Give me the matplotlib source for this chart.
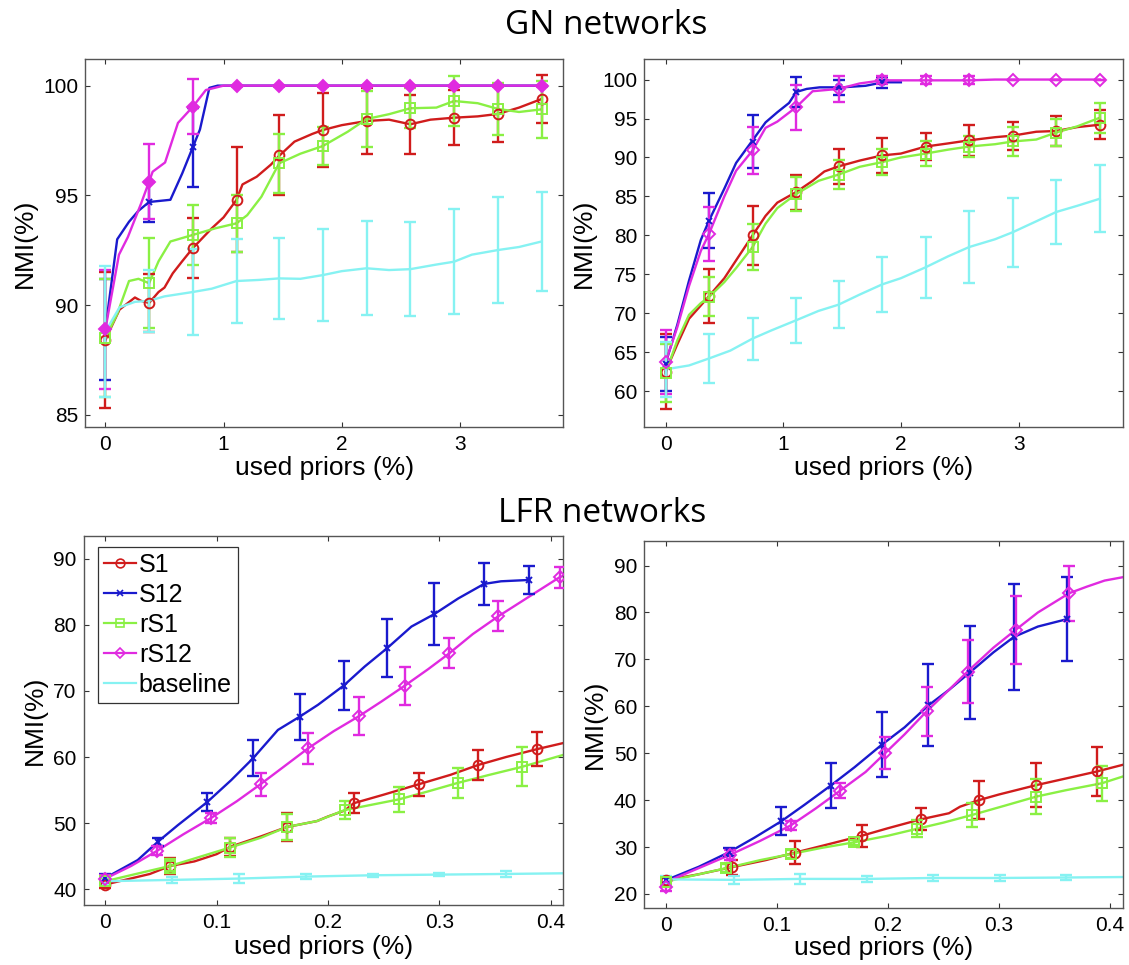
import matplotlib
matplotlib.use("Agg")
import matplotlib.pyplot as plt
from matplotlib.lines import Line2D

# ---------------- DATA ----------------
series_names = ["S1", "S12", "rS1", "rS12", "baseline"]

# GN networks, left panel
gn1_mx = [0, 0.37, 0.74, 1.11, 1.47, 1.84, 2.21, 2.58, 2.95, 3.32, 3.69]
gn1_s1_line = [(0, 88.4), (0.05, 89.0), (0.12, 89.8), (0.25, 90.35), (0.3, 90.2), (0.37, 90.1), (0.45, 90.6),
               (0.5, 90.8), (0.57, 91.45), (0.65, 92.0), (0.74, 92.6), (0.9, 93.5), (1.0, 94.0), (1.11, 94.8),
               (1.16, 95.5), (1.28, 95.85), (1.4, 96.4), (1.47, 96.8), (1.6, 97.45), (1.75, 97.8), (1.84, 97.98),
               (2.0, 98.2), (2.21, 98.39), (2.4, 98.45), (2.58, 98.24), (2.75, 98.45), (2.95, 98.54),
               (3.15, 98.6), (3.32, 98.71), (3.5, 99.0), (3.69, 99.39)]
gn1_s1_m = [88.4, 90.1, 92.6, 94.8, 96.84, 97.98, 98.39, 98.24, 98.54, 98.71, 99.39]
gn1_s1_e = [3.1, 1.3, 1.35, 2.4, 1.8, 1.7, 1.5, 1.35, 1.25, 1.3, 1.1]
gn1_s12_line = [(0, 88.9), (0.1, 93.0), (0.2, 93.8), (0.28, 94.3), (0.37, 94.7), (0.55, 94.8), (0.65, 96.0),
                (0.74, 97.2), (0.8, 98.0), (0.88, 99.9), (0.95, 100), (3.69, 100)]
gn1_s12_m = [88.9, 94.7, 97.2, 100, 100, 100, 100, 100, 100, 100, 100]
gn1_s12_e = [2.3, 0.9, 1.8, 0, 0, 0, 0, 0, 0, 0, 0]
gn1_rs1_line = [(0, 88.5), (0.1, 89.6), (0.2, 91.1), (0.28, 91.2), (0.37, 91.0), (0.45, 92.0), (0.55, 92.9),
                (0.74, 93.2), (0.93, 93.5), (1.11, 93.73), (1.2, 94.1), (1.32, 94.94), (1.47, 96.46),
                (1.65, 96.9), (1.84, 97.25), (2.05, 97.9), (2.21, 98.48), (2.4, 98.7), (2.58, 98.97),
                (2.8, 99.0), (2.95, 99.3), (3.15, 99.2), (3.32, 98.94), (3.5, 98.8), (3.69, 98.92)]
gn1_rs1_m = [88.5, 91.0, 93.2, 93.73, 96.46, 97.25, 98.48, 98.97, 99.30, 98.94, 98.92]
gn1_rs1_e = [2.7, 2.05, 1.35, 1.3, 1.35, 0.85, 1.27, 0.9, 1.15, 1.2, 1.3]
gn1_rs12_line = [(0, 88.9), (0.115, 92.3), (0.19, 93.1), (0.3, 94.6), (0.37, 95.63), (0.4, 96.08),
                 (0.505, 96.5), (0.614, 98.3), (0.74, 99.04), (0.85, 99.8), (1.0, 100), (3.69, 100)]
gn1_rs12_m = [88.9, 95.63, 99.04, 100, 100, 100, 100, 100, 100, 100, 100]
gn1_rs12_e = [2.7, 1.7, 1.25, 0, 0, 0, 0, 0, 0, 0, 0]
gn1_base_line = [(0, 88.8), (0.12, 89.9), (0.25, 90.15), (0.37, 90.2), (0.5, 90.4), (0.74, 90.6), (0.9, 90.75),
                 (1.11, 91.1), (1.3, 91.15), (1.47, 91.22), (1.65, 91.2), (1.84, 91.37), (2.0, 91.55),
                 (2.21, 91.68), (2.4, 91.6), (2.58, 91.64), (2.8, 91.85), (2.95, 91.98), (3.1, 92.3),
                 (3.32, 92.51), (3.5, 92.65), (3.69, 92.9)]
gn1_base_m = [88.8, 90.2, 90.6, 91.1, 91.22, 91.37, 91.68, 91.64, 91.98, 92.51, 92.9]
gn1_base_e = [3.0, 1.4, 1.95, 1.9, 1.85, 2.1, 2.15, 2.15, 2.4, 2.4, 2.27]

# GN networks, right panel
gn2_mx = [0, 0.37, 0.74, 1.11, 1.47, 1.84, 2.21, 2.58, 2.95, 3.32, 3.69]
gn2_s1_line = [(0, 62.5), (0.1, 66.0), (0.2, 69.3), (0.3, 71.0), (0.37, 72.2), (0.5, 74.5), (0.6, 76.8),
               (0.74, 80.0), (0.85, 82.5), (0.95, 84.2), (1.11, 85.56), (1.25, 87.0), (1.35, 88.2),
               (1.47, 88.85), (1.65, 89.6), (1.84, 90.26), (2.0, 90.5), (2.21, 91.4), (2.4, 91.8),
               (2.58, 92.2), (2.8, 92.6), (2.95, 92.8), (3.15, 93.3), (3.32, 93.4), (3.5, 93.9), (3.69, 94.2)]
gn2_s1_m = [62.5, 72.2, 80.0, 85.56, 88.85, 90.26, 91.4, 92.2, 92.8, 93.4, 94.2]
gn2_s1_e = [4.8, 3.45, 3.8, 2.25, 2.2, 2.25, 1.7, 2.0, 1.8, 1.95, 1.85]
gn2_s12_line = [(0, 63.5), (0.1, 68.5), (0.2, 74.2), (0.3, 79.4), (0.37, 81.9), (0.5, 86.0), (0.6, 89.3),
                (0.74, 92.2), (0.85, 94.5), (0.95, 95.8), (1.05, 97.0), (1.11, 98.4), (1.2, 98.8),
                (1.31, 99.0), (1.5, 99.0), (1.7, 99.2), (1.85, 99.65), (2.0, 99.65)]
gn2_s12_mx = [0, 0.37, 0.74, 1.11, 1.47, 1.84]
gn2_s12_m = [63.5, 81.9, 92.0, 98.4, 99.0, 99.65]
gn2_s12_e = [3.5, 3.5, 3.4, 1.9, 1.0, 0.7]
gn2_rs1_line = [(0, 62.3), (0.1, 66.5), (0.2, 69.8), (0.3, 71.3), (0.37, 72.1), (0.5, 74.0), (0.6, 75.8),
                (0.74, 78.5), (0.85, 81.5), (0.95, 83.5), (1.11, 85.3), (1.3, 87.0), (1.47, 87.8),
                (1.65, 88.8), (1.84, 89.4), (2.0, 90.0), (2.21, 90.5), (2.4, 91.0), (2.58, 91.4),
                (2.8, 91.7), (2.95, 92.05), (3.15, 92.3), (3.32, 93.2), (3.5, 94.0), (3.69, 95.1)]
gn2_rs1_m = [62.3, 72.1, 78.5, 85.3, 87.8, 89.4, 90.5, 91.4, 92.05, 93.2, 95.1]
gn2_rs1_e = [3.7, 2.5, 2.9, 2.15, 1.9, 1.7, 1.65, 1.4, 1.9, 1.7, 1.9]
gn2_rs12_line = [(0, 63.7), (0.1, 68.2), (0.2, 73.5), (0.3, 78.0), (0.37, 80.2), (0.5, 85.0), (0.6, 88.3),
                 (0.74, 90.9), (0.85, 93.8), (0.95, 94.6), (1.11, 96.45), (1.25, 98.5), (1.47, 98.8),
                 (1.65, 99.5), (1.84, 99.9), (2.21, 99.9), (2.58, 99.9), (2.8, 100), (3.69, 100)]
gn2_rs12_m = [63.7, 80.2, 90.9, 96.45, 98.8, 99.9, 99.9, 99.9, 100, 100, 100]
gn2_rs12_e = [4.1, 3.5, 3.0, 2.9, 1.7, 0.5, 0.5, 0.5, 0, 0, 0]
gn2_base_line = [(0, 62.8), (0.2, 63.3), (0.37, 64.2), (0.55, 65.2), (0.74, 66.75), (0.9, 67.8), (1.11, 69.1),
                 (1.3, 70.3), (1.47, 71.1), (1.65, 72.4), (1.84, 73.7), (2.0, 74.5), (2.21, 75.9),
                 (2.4, 77.3), (2.58, 78.5), (2.8, 79.5), (2.95, 80.4), (3.15, 81.8), (3.32, 83.0),
                 (3.5, 83.8), (3.69, 84.7)]
gn2_base_m = [62.8, 64.2, 66.75, 69.1, 71.1, 73.7, 75.9, 78.5, 80.4, 83.0, 84.7]
gn2_base_e = [3.5, 3.1, 2.7, 2.9, 3.05, 3.55, 3.9, 4.6, 4.4, 4.1, 4.3]

# LFR networks, left panel
lfr1_s1_line = [(0, 40.7), (0.02, 41.5), (0.04, 42.3), (0.058, 43.5), (0.08, 44.2), (0.1, 45.3),
                (0.112, 46.4), (0.14, 48.0), (0.163, 49.4), (0.19, 50.3), (0.2, 51.0), (0.215, 51.9),
                (0.223, 53.0), (0.25, 54.3), (0.282, 55.9), (0.31, 57.3), (0.335, 58.8), (0.36, 60.0),
                (0.388, 61.2), (0.411, 62.1)]
lfr1_s1_mx = [0, 0.058, 0.112, 0.163, 0.223, 0.282, 0.335, 0.388]
lfr1_s1_m = [40.7, 43.5, 46.4, 49.4, 53.0, 55.9, 58.8, 61.2]
lfr1_s1_e = [0.6, 1.27, 1.4, 2.15, 1.5, 1.75, 2.3, 2.55]
lfr1_s12_line = [(0, 41.7), (0.029, 44.4), (0.0473, 47.2), (0.0652, 49.7), (0.0916, 53.2), (0.113, 56.5),
                 (0.1326, 59.8), (0.155, 64.1), (0.1745, 66.1), (0.191, 67.9), (0.214, 70.8), (0.233, 73.7),
                 (0.2533, 76.5), (0.275, 79.75), (0.2952, 81.6), (0.317, 84.0), (0.3402, 86.2),
                 (0.3555, 86.6), (0.3805, 86.8)]
lfr1_s12_mx = [0, 0.0473, 0.0916, 0.1326, 0.1745, 0.214, 0.2533, 0.2952, 0.3402, 0.3805]
lfr1_s12_m = [41.7, 47.2, 53.2, 59.8, 66.1, 70.8, 76.5, 81.6, 86.2, 86.8]
lfr1_s12_e = [0.6, 0.6, 1.35, 2.7, 3.5, 3.75, 4.35, 4.7, 3.2, 2.1]
lfr1_rs1_line = [(0, 41.2), (0.03, 42.4), (0.058, 43.5), (0.085, 44.9), (0.112, 46.3), (0.14, 47.8),
                 (0.163, 49.4), (0.19, 50.3), (0.215, 51.97), (0.24, 52.8), (0.264, 53.6), (0.29, 54.8),
                 (0.317, 56.1), (0.345, 57.3), (0.374, 58.5), (0.411, 60.3)]
lfr1_rs1_mx = [0, 0.058, 0.112, 0.163, 0.215, 0.264, 0.317, 0.374]
lfr1_rs1_m = [41.2, 43.5, 46.3, 49.4, 51.97, 53.6, 56.1, 58.5]
lfr1_rs1_e = [0.5, 1.1, 1.5, 1.9, 1.4, 1.9, 2.3, 2.95]
lfr1_rs12_line = [(0, 41.6), (0.023, 43.5), (0.0464, 45.8), (0.07, 48.3), (0.0952, 50.8), (0.118, 53.3),
                  (0.1395, 55.9), (0.16, 58.5), (0.182, 61.3), (0.205, 63.9), (0.228, 66.2), (0.248, 68.4),
                  (0.269, 70.8), (0.29, 73.3), (0.309, 75.7), (0.33, 78.6), (0.353, 81.3), (0.38, 84.2),
                  (0.408, 87.2), (0.411, 87.4)]
lfr1_rs12_mx = [0, 0.0464, 0.0952, 0.1395, 0.182, 0.228, 0.269, 0.309, 0.353, 0.408]
lfr1_rs12_m = [41.6, 45.8, 50.8, 55.9, 61.3, 66.2, 70.8, 75.7, 81.3, 87.2]
lfr1_rs12_e = [0.6, 0.7, 0.8, 1.75, 2.35, 2.9, 2.9, 2.3, 2.25, 1.6]
lfr1_base_line = [(0, 41.2), (0.06, 41.4), (0.12, 41.6), (0.18, 41.9), (0.24, 42.1), (0.30, 42.2),
                  (0.36, 42.3), (0.411, 42.4)]
lfr1_base_mx = [0, 0.06, 0.12, 0.18, 0.24, 0.30, 0.36]
lfr1_base_m = [41.2, 41.4, 41.6, 41.9, 42.1, 42.2, 42.3]
lfr1_base_e = [0.6, 0.5, 0.7, 0.4, 0.25, 0.25, 0.4]

# LFR networks, right panel
lfr2_s1_line = [(0, 22.9), (0.03, 24.2), (0.0596, 25.7), (0.09, 27.2), (0.1165, 28.8), (0.15, 30.8),
                (0.1765, 32.4), (0.2, 34.0), (0.2296, 35.9), (0.255, 37.2), (0.265, 38.6), (0.282, 40.0),
                (0.3, 41.2), (0.3336, 43.2), (0.36, 44.6), (0.388, 46.1), (0.411, 47.5)]
lfr2_s1_mx = [0, 0.0596, 0.1165, 0.1765, 0.2296, 0.282, 0.3336, 0.388]
lfr2_s1_m = [22.9, 25.7, 28.8, 32.4, 35.9, 40.0, 43.2, 46.1]
lfr2_s1_e = [0.7, 1.6, 2.4, 2.4, 2.35, 4.1, 4.7, 5.3]
lfr2_s12_line = [(0, 22.9), (0.03, 25.8), (0.0571, 28.9), (0.08, 32.0), (0.1042, 35.5), (0.125, 39.0),
                 (0.1486, 43.1), (0.17, 47.0), (0.1945, 51.8), (0.215, 55.5), (0.2365, 60.2), (0.255, 63.5),
                 (0.2737, 67.2), (0.295, 71.5), (0.3135, 74.8), (0.335, 77.0), (0.3615, 78.6)]
lfr2_s12_mx = [0, 0.0571, 0.1042, 0.1486, 0.1945, 0.2365, 0.2737, 0.3135, 0.3615]
lfr2_s12_m = [22.9, 28.9, 35.5, 43.1, 51.8, 60.2, 67.2, 74.8, 78.6]
lfr2_s12_e = [0.8, 0.8, 3.0, 4.85, 6.9, 8.75, 9.95, 11.25, 8.9]
lfr2_rs1_line = [(0, 22.6), (0.0547, 25.5), (0.085, 27.2), (0.1126, 28.5), (0.14, 29.8), (0.1696, 31.0),
                 (0.2, 32.4), (0.2265, 33.9), (0.25, 35.2), (0.276, 36.85), (0.305, 38.8), (0.3336, 40.75),
                 (0.36, 42.1), (0.3926, 43.6), (0.411, 45.0)]
lfr2_rs1_mx = [0, 0.0547, 0.1126, 0.1696, 0.2265, 0.276, 0.3336, 0.3926]
lfr2_rs1_m = [22.6, 25.5, 28.5, 31.0, 33.9, 36.85, 40.75, 43.6]
lfr2_rs1_e = [0.8, 0.8, 0.8, 0.5, 1.8, 2.5, 3.65, 3.75]
lfr2_rs12_line = [(0, 22.5), (0.0577, 28.3), (0.085, 31.3), (0.1126, 34.6), (0.135, 38.2), (0.157, 42.0),
                  (0.18, 46.0), (0.1975, 50.0), (0.215, 54.0), (0.2348, 58.9), (0.255, 63.5), (0.2717, 67.4),
                  (0.295, 72.5), (0.315, 76.3), (0.335, 80.0), (0.3631, 84.1), (0.379, 85.5), (0.395, 86.8),
                  (0.411, 87.5)]
lfr2_rs12_mx = [0, 0.0577, 0.1126, 0.157, 0.1975, 0.2348, 0.2717, 0.315, 0.3631]
lfr2_rs12_m = [21.5, 28.3, 34.6, 42.0, 50.0, 58.9, 67.4, 76.3, 84.1]
lfr2_rs12_e = [0.8, 1.0, 1.0, 1.6, 3.4, 5.15, 6.75, 7.25, 5.85]
lfr2_base_line = [(0, 23.1), (0.0616, 23.0), (0.1207, 23.2), (0.181, 23.2), (0.2405, 23.4), (0.3005, 23.4),
                  (0.3605, 23.5), (0.411, 23.6)]
lfr2_base_mx = [0, 0.0616, 0.1207, 0.181, 0.2405, 0.3005, 0.3605]
lfr2_base_m = [23.1, 23.0, 23.2, 23.2, 23.4, 23.4, 23.5]
lfr2_base_e = [0.8, 0.8, 1.1, 0.7, 0.6, 0.6, 0.5]

gn_xticks = [0, 1, 2, 3]
lfr_xticks = [0, 0.1, 0.2, 0.3, 0.4]
lfr_xticklabels = ["0", "0.1", "0.2", "0.3", "0.4"]
gn1_yticks = [85, 90, 95, 100]
gn2_yticks = [60, 65, 70, 75, 80, 85, 90, 95, 100]
lfr1_yticks = [40, 50, 60, 70, 80, 90]
lfr2_yticks = [20, 30, 40, 50, 60, 70, 80, 90]

# ---------------- STYLE ----------------
COL = {"S1": "#d01c1c", "S12": "#1a1acd", "rS1": "#8af044", "rS12": "#e02ae0", "baseline": "#86f2f2"}
MRK = {"S1": "o", "S12": "x", "rS1": "s", "rS12": "D", "baseline": None}
MSZ = {"S1": 7, "S12": 4.5, "rS1": 7, "rS12": 6, "baseline": 0}

plt.rcParams["font.family"] = ["Liberation Sans", "DejaVu Sans"]

W, H = 1129, 965
fig = plt.figure(figsize=(W / 100, H / 100), dpi=100)


def px_axes(l, r, t, b):
    return [l / W, 1 - b / H, (r - l) / W, (b - t) / H]


def draw_panel(rect, xlim, ylim, xticks, xticklabels, yticks, series, filled_diamond, ylab_x, xlab_y):
    ax = fig.add_axes(px_axes(*rect))
    for name, line, mx, my, me in series:
        c = COL[name]
        lx = [p[0] for p in line]
        ly = [p[1] for p in line]
        ax.plot(lx, ly, color=c, lw=1.7, solid_joinstyle="round", zorder=2)
        m = MRK[name]
        mfc = "none"
        if name == "rS12" and filled_diamond:
            mfc = c
        ax.errorbar(mx, my, yerr=me, fmt="none", ecolor=c, elinewidth=1.7, capsize=4.2, capthick=1.7, zorder=3)
        if m is not None:
            ax.plot(mx, my, ls="none", marker=m, ms=MSZ[name], mfc=mfc, mec=c, mew=1.4, zorder=4)
    ax.set_xlim(*xlim)
    ax.set_ylim(*ylim)
    ax.set_xticks(xticks)
    ax.set_xticklabels(xticklabels)
    ax.set_yticks(yticks)
    ax.tick_params(direction="in", length=3.5, width=0.8, top=True, right=True, labelsize=15,
                   colors="#333333", labelcolor="black")
    ax.tick_params(axis="x", pad=6)
    ax.tick_params(axis="y", pad=5)
    for s in ax.spines.values():
        s.set_color("#555555")
        s.set_linewidth(1.0)
    ax.set_ylabel("NMI(%)", fontsize=19)
    ax.yaxis.set_label_coords(ylab_x, 0.5)
    ax.yaxis.label.set_verticalalignment("center")
    ax.set_xlabel("used priors (%)", fontsize=19)
    ax.xaxis.set_label_coords(0.5, xlab_y)
    ax.xaxis.label.set_verticalalignment("center")
    return ax


gn1_series = [
    ("S1", gn1_s1_line, gn1_mx, gn1_s1_m, gn1_s1_e),
    ("S12", gn1_s12_line, gn1_mx, gn1_s12_m, gn1_s12_e),
    ("rS1", gn1_rs1_line, gn1_mx, gn1_rs1_m, gn1_rs1_e),
    ("rS12", gn1_rs12_line, gn1_mx, gn1_rs12_m, gn1_rs12_e),
    ("baseline", gn1_base_line, gn1_mx, gn1_base_m, gn1_base_e),
]
gn2_series = [
    ("S1", gn2_s1_line, gn2_mx, gn2_s1_m, gn2_s1_e),
    ("S12", gn2_s12_line, gn2_s12_mx, gn2_s12_m, gn2_s12_e),
    ("rS1", gn2_rs1_line, gn2_mx, gn2_rs1_m, gn2_rs1_e),
    ("rS12", gn2_rs12_line, gn2_mx, gn2_rs12_m, gn2_rs12_e),
    ("baseline", gn2_base_line, gn2_mx, gn2_base_m, gn2_base_e),
]
lfr1_series = [
    ("S1", lfr1_s1_line, lfr1_s1_mx, lfr1_s1_m, lfr1_s1_e),
    ("S12", lfr1_s12_line, lfr1_s12_mx, lfr1_s12_m, lfr1_s12_e),
    ("rS1", lfr1_rs1_line, lfr1_rs1_mx, lfr1_rs1_m, lfr1_rs1_e),
    ("rS12", lfr1_rs12_line, lfr1_rs12_mx, lfr1_rs12_m, lfr1_rs12_e),
    ("baseline", lfr1_base_line, lfr1_base_mx, lfr1_base_m, lfr1_base_e),
]
lfr2_series = [
    ("S1", lfr2_s1_line, lfr2_s1_mx, lfr2_s1_m, lfr2_s1_e),
    ("S12", lfr2_s12_line, lfr2_s12_mx, lfr2_s12_m, lfr2_s12_e),
    ("rS1", lfr2_rs1_line, lfr2_rs1_mx, lfr2_rs1_m, lfr2_rs1_e),
    ("rS12", lfr2_rs12_line, lfr2_rs12_mx, lfr2_rs12_m, lfr2_rs12_e),
    ("baseline", lfr2_base_line, lfr2_base_mx, lfr2_base_m, lfr2_base_e),
]

gn_xl = [str(t) for t in gn_xticks]
ax1 = draw_panel((85.4, 563.4, 59.3, 427), (-0.169, 3.875), (84.45, 101.2), gn_xticks, gn_xl,
                 gn1_yticks, gn1_series, True, -0.127, -0.112)
ax2 = draw_panel((644.2, 1122.6, 59.3, 427), (-0.181, 3.884), (55.4, 102.6), gn_xticks, gn_xl,
                 gn2_yticks, gn2_series, False, -0.126, -0.112)
ax3 = draw_panel((83.6, 563.4, 535.7, 905), (-0.0196, 0.4115), (37.6, 93.5), lfr_xticks, lfr_xticklabels,
                 lfr1_yticks, lfr1_series, False, -0.102, -0.114)
ax4 = draw_panel((644.2, 1122.6, 540.7, 908), (-0.0192, 0.4112), (17.0, 95.3), lfr_xticks, lfr_xticklabels,
                 lfr2_yticks, lfr2_series, False, -0.103, -0.11)

# legend
handles = []
for name in series_names:
    m = MRK[name]
    handles.append(Line2D([0], [0], color=COL[name], lw=1.6, marker=m if m else None,
                          ms=MSZ[name] * 0.9, mfc="none", mec=COL[name], mew=1.2))
leg = ax3.legend(handles, series_names, loc="upper left", bbox_to_anchor=(0.029, 0.970), borderaxespad=0,
                 fontsize=18, frameon=True, fancybox=False, framealpha=1, edgecolor="#333333",
                 handlelength=1.3, handletextpad=0.1, labelspacing=0.24, borderpad=0.25)
leg.get_frame().set_linewidth(0.9)

fig.text(606 / W, 1 - 25.8 / H, "GN networks", ha="center", va="center", fontsize=24,
         family=["Open Sans", "DejaVu Sans"])
fig.text(602 / W, 1 - 513 / H, "LFR networks", ha="center", va="center", fontsize=24,
         family=["Open Sans", "DejaVu Sans"])

fig.savefig("out.png", dpi=100)
